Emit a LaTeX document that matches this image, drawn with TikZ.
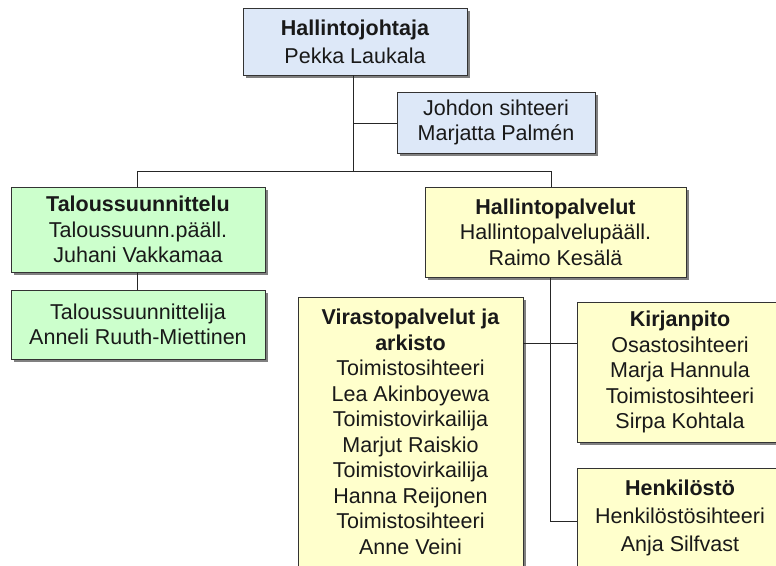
\documentclass[tikz,border=0pt]{standalone}
\usepackage{fontspec}
\setmainfont{Liberation Sans}
\usetikzlibrary{shadows,calc}
\definecolor{bluebox}{RGB}{221,232,248}
\definecolor{greenbox}{RGB}{204,255,204}
\definecolor{yellowbox}{RGB}{255,255,204}
\definecolor{shadowgray}{RGB}{128,128,128}
\begin{document}
\begin{tikzpicture}[x=1pt,y=-1pt,
  box/.style={draw=black!80, line width=0.8pt, align=center, inner sep=0pt,
    font=\fontsize{21.5}{25.5}\selectfont, text=black!90,
    drop shadow={shadow xshift=3pt, shadow yshift=-3pt, fill=shadowgray, opacity=1}},
  conn/.style={draw=black!85, line width=0.9pt}]
\useasboundingbox (0,0) rectangle (776,565);
\clip (0,0) rectangle (776,565);
\fill[white] (0,0) rectangle (776,565);

\node[box, fill=bluebox, minimum width=224pt, minimum height=67pt] (top) at (355,41.5)
  {\textbf{Hallintojohtaja}\\[2.5pt]Pekka Laukala};
\node[box, fill=bluebox, minimum width=198pt, minimum height=61pt] (johdon) at (496,122.5)
  {Johdon sihteeri\\Marjatta Palmén};
\node[box, fill=greenbox, minimum width=254pt, minimum height=85pt] (talous) at (138,229.5)
  {\textbf{Taloussuunnittelu}\\Taloussuunn.pääll.\\Juhani Vakkamaa};
\node[box, fill=greenbox, minimum width=254pt, minimum height=69pt] (talous2) at (138,324.5)
  {Taloussuunnittelija\\Anneli Ruuth-Miettinen};
\node[box, fill=yellowbox, minimum width=261pt, minimum height=90pt] (hallpal) at (555.5,232)
  {\textbf{Hallintopalvelut}\\Hallintopalvelupääll.\\Raimo Kesälä};
\node[box, fill=yellowbox, minimum width=225pt, minimum height=270pt] (viras) at (410.5,432)
  {\textbf{Virastopalvelut ja}\\\textbf{arkisto}\\Toimistosihteeri\\Lea Akinboyewa\\Toimistovirkailija\\Marjut Raiskio\\Toimistovirkailija\\Hanna Reijonen\\Toimistosihteeri\\Anne Veini};
\node[box, fill=yellowbox, minimum width=206pt, minimum height=140pt] (kirjan) at (680,372)
  {\textbf{Kirjanpito}\\Osastosihteeri\\Marja Hannula\\Toimistosihteeri\\Sirpa Kohtala};
\node[box, fill=yellowbox, minimum width=206pt, minimum height=100pt] (henk) at (680,518)
  {\textbf{Henkilöstö}\\[2.5pt]Henkilöstösihteeri\\[2.5pt]Anja Silfvast};

\coordinate (j1) at (353,171);
\coordinate (jm) at (353,123);
\coordinate (busL) at (137,171);
\coordinate (busR) at (551,171);
\coordinate (hv) at (550,521);
\coordinate (vk) at (550,343);

\draw[conn] (j1 |- top.south) -- (j1);
\draw[conn] (jm) -- (jm -| johdon.west);
\draw[conn] (busL |- talous.north) -- (busL) -- (busR) -- (busR |- hallpal.north);
\draw[conn] (busL |- talous.south) -- (busL |- talous2.north);
\draw[conn] (hv |- hallpal.south) -- (hv) -- (hv -| henk.west);
\draw[conn] (vk -| viras.east) -- (vk -| kirjan.west);
\end{tikzpicture}
\end{document}
